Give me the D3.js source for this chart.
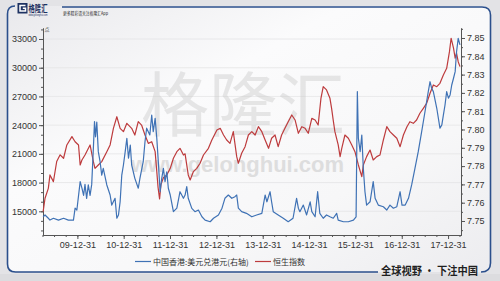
<!DOCTYPE html>
<html><head><meta charset="utf-8">
<script src="https://cdn.jsdelivr.net/npm/d3@7"></script>
<style>html,body{margin:0;padding:0;background:#e3e3e6;} svg{display:block;}</style>
</head><body><svg id="c" width="500" height="281"></svg>
<script>
// ---------- DATA ----------
const hsiName = "恒生指数";
const hkdName = "中国香港:美元兑港元(右轴)";
const leftTicks = [15000, 18000, 21000, 24000, 27000, 30000, 33000];
const rightTicks = [7.75, 7.76, 7.77, 7.78, 7.79, 7.80, 7.81, 7.82, 7.83, 7.84, 7.85];
const xTickDates = ["2009-12-31","2010-12-31","2011-12-31","2012-12-31","2013-12-31","2014-12-31","2015-12-31","2016-12-31","2017-12-31"];

const hsiDates = [
"2009-04-05","2009-04-20","2009-05-16","2009-05-29","2009-06-25","2009-07-21","2009-08-17","2009-09-13","2009-10-09","2009-11-18","2009-12-13",
"2010-01-09","2010-01-22","2010-02-05","2010-03-01","2010-04-10","2010-05-06","2010-05-19","2010-06-14","2010-07-11","2010-08-20","2010-09-15","2010-10-11","2010-11-07","2010-12-03","2010-12-29",
"2011-01-25","2011-03-04","2011-03-29","2011-04-25","2011-05-21","2011-06-17","2011-07-13","2011-08-09","2011-09-05","2011-09-18","2011-09-28","2011-10-10","2011-10-21","2011-11-09","2011-12-06",
"2012-01-02","2012-01-27","2012-02-23","2012-03-19","2012-04-15","2012-04-28","2012-05-23","2012-06-07","2012-07-02","2012-07-29","2012-08-24","2012-09-20","2012-10-29","2012-11-25",
"2013-01-04","2013-01-30","2013-02-25","2013-03-22","2013-04-17","2013-05-13","2013-06-09","2013-06-22","2013-07-18","2013-08-14","2013-09-09","2013-10-06","2013-11-01","2013-11-27","2013-12-24",
"2014-01-19","2014-02-15","2014-03-11","2014-04-07","2014-05-02","2014-05-29","2014-06-24","2014-07-20","2014-08-17","2014-09-12","2014-10-08","2014-11-04","2014-11-30","2014-12-25",
"2015-01-22","2015-02-17","2015-03-13","2015-04-04","2015-04-22","2015-05-18","2015-06-14","2015-06-27","2015-07-10","2015-07-23","2015-08-18","2015-09-02","2015-09-15","2015-10-10","2015-11-06","2015-12-03","2015-12-28",
"2016-01-24","2016-02-20","2016-03-03","2016-03-29","2016-04-25","2016-05-20","2016-06-17","2016-07-12","2016-08-08","2016-09-04","2016-09-29","2016-10-26","2016-11-22","2016-12-18",
"2017-01-13","2017-02-10","2017-03-05","2017-04-01","2017-04-27","2017-05-23","2017-06-19","2017-07-15","2017-08-11","2017-09-06","2017-10-03","2017-10-28","2017-11-24","2017-12-20",
"2018-01-11","2018-01-24","2018-02-12","2018-02-25","2018-03-08","2018-03-21","2018-04-04"];
const hsiValues = [
14960,16360,17400,18800,18100,20200,20900,20540,21930,22800,22270,
21930,19840,20360,20880,21930,20190,19490,19840,20190,21230,21930,23670,24880,23670,23320,
24190,23670,22970,24360,24010,22970,22100,22270,21230,19140,17500,16300,17800,18500,18790,
19490,20540,21230,21580,20880,21000,18800,18270,19140,19490,20020,20880,21580,22450,
23500,23670,22970,22450,22100,23320,20710,20020,21060,21750,22970,23320,22970,23840,23320,
22450,21580,22630,22970,21750,22970,23670,24360,25060,24540,23150,23840,23670,23150,
24710,24540,24010,26800,28020,27680,26800,25760,24500,23320,21930,20710,21580,22970,22630,21930,21230,
19840,18620,19840,20710,21400,20360,20710,20880,22450,23840,23320,22970,22630,21750,
22970,23840,24360,24190,24540,25240,25760,26280,27330,28200,28020,28370,29240,29940,
31680,33080,32040,31000,31510,30630,30110];

const hkdDates = [
"2009-04-05","2009-04-20","2009-05-16","2009-05-29","2009-06-25","2009-08-04","2009-09-13","2009-10-21","2009-11-30","2009-12-13","2009-12-27",
"2010-01-22","2010-02-05","2010-02-18","2010-03-01","2010-03-14","2010-03-27","2010-04-10","2010-04-23","2010-05-06","2010-05-15","2010-05-23","2010-06-02","2010-06-14","2010-06-28","2010-07-11","2010-07-23","2010-08-20","2010-09-15","2010-09-28","2010-10-24","2010-11-07","2010-11-20","2010-12-03","2010-12-16","2010-12-29",
"2011-01-12","2011-01-25","2011-02-07","2011-02-21","2011-03-04","2011-03-29","2011-04-25","2011-05-08","2011-06-03","2011-06-17","2011-06-30","2011-07-25","2011-08-09","2011-08-21","2011-09-05","2011-09-18","2011-09-30","2011-10-14","2011-10-27","2011-11-09","2011-11-22","2011-12-06","2011-12-18",
"2012-01-02","2012-01-27","2012-02-23","2012-03-19","2012-04-15","2012-04-28","2012-05-11","2012-05-23","2012-06-20","2012-07-15","2012-08-11","2012-09-08","2012-10-03","2012-11-12","2012-12-08",
"2013-01-16","2013-02-13","2013-03-08","2013-04-04","2013-05-01","2013-05-26","2013-06-09","2013-06-22","2013-07-18","2013-08-25","2013-10-06","2013-11-13","2013-12-24",
"2014-01-19","2014-02-02","2014-02-27","2014-03-11","2014-03-24","2014-05-02","2014-06-11","2014-07-20","2014-08-27","2014-09-24","2014-10-08","2014-10-20","2014-11-16","2014-12-12",
"2015-01-09","2015-01-22","2015-02-17","2015-03-09","2015-03-26","2015-04-22","2015-05-18","2015-06-14","2015-07-10","2015-08-06","2015-08-18","2015-09-28","2015-11-06","2015-12-16",
"2016-01-06","2016-01-16","2016-01-24","2016-02-07","2016-02-20","2016-03-03","2016-03-16","2016-03-29","2016-04-25","2016-05-20","2016-06-04","2016-06-29","2016-08-08","2016-09-04","2016-09-29","2016-10-26","2016-11-22","2016-12-18",
"2017-01-02","2017-01-27","2017-02-22","2017-03-19","2017-04-14","2017-05-10","2017-06-06","2017-07-02","2017-07-28","2017-08-11","2017-08-24","2017-09-06","2017-10-03","2017-10-28","2017-11-12","2017-11-24","2017-12-07","2017-12-20",
"2018-01-03","2018-01-16","2018-01-29","2018-02-12","2018-02-25","2018-03-08","2018-03-21","2018-04-04"];
const hkdValues = [
7.7523,7.7533,7.7515,7.7505,7.7515,7.7505,7.7515,7.7505,7.7505,7.7570,7.7560,
7.7715,7.7680,7.7640,7.7700,7.7624,7.7697,7.7640,7.7700,7.7897,7.8043,7.7960,7.8040,7.7879,7.7824,7.7751,7.7788,7.7697,7.7642,7.7587,7.7624,7.7515,7.7533,7.7605,7.7751,7.7806,
7.7879,7.7952,7.7843,7.7915,7.7806,7.7733,7.7679,7.7733,7.7824,7.7933,7.8007,7.7970,7.8079,7.7988,7.8061,7.7952,7.7824,7.7660,7.7733,7.7788,7.7715,7.7769,7.7679,
7.7642,7.7551,7.7570,7.7660,7.7624,7.7642,7.7688,7.7624,7.7569,7.7551,7.7560,7.7523,7.7505,7.7496,7.7515,
7.7533,7.7570,7.7624,7.7642,7.7624,7.7633,7.7642,7.7570,7.7551,7.7542,7.7523,7.7533,7.7542,
7.7642,7.7605,7.7660,7.7605,7.7551,7.7533,7.7515,7.7496,7.7515,7.7624,7.7570,7.7551,7.7587,7.7533,
7.7605,7.7551,7.7523,7.7660,7.7542,7.7515,7.7533,7.7523,7.7515,7.7542,7.7505,7.7496,7.7496,7.7505,
7.7523,7.8207,7.7952,7.7879,7.7970,7.7788,7.7660,7.7587,7.7605,7.7715,7.7624,7.7587,7.7578,7.7560,7.7587,7.7570,7.7578,7.7660,
7.7587,7.7587,7.7624,7.7697,7.7788,7.7879,7.7988,7.8097,7.8207,7.8261,7.8225,7.8207,7.8116,7.8007,7.8025,7.8079,7.8134,7.8207,
7.8171,7.8189,7.8243,7.8280,7.8316,7.8425,7.8498,7.8462];

// ---------- DRAW ----------
const parse = d3.timeParse("%Y-%m-%d");
const svg = d3.select("#c");
const numFont = "'Liberation Sans', Arial, sans-serif";
const cjkFont = "'Noto Sans CJK SC', sans-serif";

const defs = svg.append("defs");
const g1 = defs.append("linearGradient").attr("id","bg").attr("x1","0").attr("y1","0").attr("x2","1").attr("y2","1");
g1.append("stop").attr("offset","0%").attr("stop-color","#e9e9ec");
g1.append("stop").attr("offset","35%").attr("stop-color","#fbfbfc");
g1.append("stop").attr("offset","70%").attr("stop-color","#f7f7f8");
g1.append("stop").attr("offset","100%").attr("stop-color","#ececef");

svg.append("rect").attr("width",500).attr("height",281).attr("fill","#e3e3e6");
svg.append("rect").attr("x",7.5).attr("y",6).attr("width",483).attr("height",266).attr("rx",8).attr("fill","url(#bg)");
svg.append("rect").attr("x",0).attr("y",274).attr("width",500).attr("height",7).attr("fill","#dcdcdf");

// scales
const x = d3.scaleTime().domain([parse("2009-04-04"), parse("2018-04-12")]).range([43, 461]);
const yL = d3.scaleLinear().domain([12524, 34149]).range([235, 28]);
const yR = d3.scaleLinear().domain([7.74235, 7.85546]).range([235, 28]);

// gridlines
svg.append("g").selectAll("line").data(leftTicks).join("line")
  .attr("x1",43).attr("x2",461).attr("y1",d=>yL(d)).attr("y2",d=>yL(d))
  .attr("stroke","#e4e4e6").attr("stroke-width",0.8);

// watermark
svg.append("text").attr("x",141).attr("y",131).attr("font-family",cjkFont).attr("font-size",70)
  .attr("fill","#c6c6c6").attr("opacity",0.4).attr("textLength",204).attr("lengthAdjust","spacingAndGlyphs").text("格隆汇");
svg.append("text").attr("x",131).attr("y",172).attr("font-family",numFont).attr("font-size",22).attr("font-weight","bold")
  .attr("fill","#c8c8c8").attr("opacity",0.55).text("www.gelonghui.com");

// axes
function styleAxis(g){
  g.selectAll("path").attr("stroke","#555").attr("stroke-width",1);
  g.selectAll("line").attr("stroke","#555");
  g.selectAll("text").attr("fill","#333").attr("font-family",numFont).attr("font-size",9);
}
const leftMinor = d3.range(13000, 34001, 1000);
svg.append("g").attr("transform","translate(43,0)")
  .call(d3.axisLeft(yL).tickValues(leftMinor).tickSize(2).tickSizeOuter(0).tickFormat(""))
  .call(styleAxis);
svg.append("g").attr("transform","translate(43,0)")
  .call(d3.axisLeft(yL).tickValues(leftTicks).tickSize(4).tickSizeOuter(0).tickPadding(2).tickFormat(d3.format("d")))
  .call(styleAxis);
svg.append("text").attr("x",44.5).attr("y",31).attr("font-family",cjkFont).attr("font-size",5).attr("fill","#444").text("点");

const rightMinor = d3.range(7.745, 7.856, 0.005);
svg.append("g").attr("transform","translate(461,0)")
  .call(d3.axisRight(yR).tickValues(rightMinor).tickSize(2).tickSizeOuter(0).tickFormat(""))
  .call(styleAxis);
svg.append("g").attr("transform","translate(461,0)")
  .call(d3.axisRight(yR).tickValues(rightTicks).tickSize(4).tickSizeOuter(0).tickPadding(2).tickFormat(d3.format(".2f")))
  .call(styleAxis);

const quarterTicks = d3.timeMonth.every(3).range(parse("2009-04-01"), parse("2018-04-13")).map(d => d3.timeDay.offset(d, -1));
svg.append("g").attr("transform","translate(0,235)")
  .call(d3.axisBottom(x).tickValues(quarterTicks).tickSize(2).tickSizeOuter(0).tickFormat(""))
  .call(styleAxis);
svg.append("g").attr("transform","translate(0,235)")
  .call(d3.axisBottom(x).tickValues(xTickDates.map(parse)).tickSize(4).tickSizeOuter(0).tickPadding(3).tickFormat(d3.timeFormat("%y-%m-%d")))
  .call(styleAxis);

// lines
const hsi = hsiDates.map((d,i)=>({d:parse(d), v:hsiValues[i]}));
const hkd = hkdDates.map((d,i)=>({d:parse(d), v:hkdValues[i]}));
const blue = "#3f72b5", red = "#bd3b3d";
svg.append("path").datum(hsi).attr("fill","none").attr("stroke",red).attr("stroke-width",1.2).attr("stroke-linejoin","round")
  .attr("d", d3.line().x(p=>x(p.d)).y(p=>yL(p.v)));
svg.append("path").datum(hkd).attr("fill","none").attr("stroke",blue).attr("stroke-width",1.2).attr("stroke-linejoin","round")
  .attr("d", d3.line().x(p=>x(p.d)).y(p=>yR(p.v)));

// legend
const lg = svg.append("g");
lg.append("line").attr("x1",135).attr("x2",151).attr("y1",261.5).attr("y2",261.5).attr("stroke",blue).attr("stroke-width",1.2);
lg.append("text").attr("x",153).attr("y",264.5).attr("font-family",cjkFont).attr("font-size",8).attr("fill","#333").text(hkdName);
lg.append("line").attr("x1",255).attr("x2",271).attr("y1",261.5).attr("y2",261.5).attr("stroke",red).attr("stroke-width",1.2);
lg.append("text").attr("x",273).attr("y",264.5).attr("font-family",cjkFont).attr("font-size",8).attr("fill","#333").text(hsiName);

// frame
const frameCol = "#2b4f8c";
svg.append("path").attr("d","M15,6 Q7.5,6 7.5,14 V264 Q7.5,272 15.5,272 H378")
  .attr("fill","none").attr("stroke",frameCol).attr("stroke-width",1.6);
svg.append("path").attr("d","M481,272 Q490.5,272 490.5,263 V15 Q490.5,7 482,7 H62")
  .attr("fill","none").attr("stroke",frameCol).attr("stroke-width",1.6);

// header logo
svg.append("rect").attr("x",17.5).attr("y",3).attr("width",10).attr("height",10.5).attr("fill","#1e3262");
svg.append("path").attr("d","M25.5,5.5 H20 V11 H25.5 V8.3 H22.8").attr("fill","none").attr("stroke","#fff").attr("stroke-width",1.5);
svg.append("text").attr("x",28.5).attr("y",12).attr("font-family",cjkFont).attr("font-size",9.5).attr("font-weight","bold").attr("fill","#1e3262")
  .attr("textLength",19).attr("lengthAdjust","spacingAndGlyphs").text("格隆汇");
svg.append("text").attr("x",28.5).attr("y",15.6).attr("font-family",numFont).attr("font-size",2.6).attr("fill","#1e3262")
  .attr("textLength",19).attr("lengthAdjust","spacingAndGlyphs").text("www.gelonghui.com");
svg.append("text").attr("x",63).attr("y",14.5).attr("font-family",cjkFont).attr("font-size",4.3).attr("fill","#2a2a2a")
  .attr("textLength",45).attr("lengthAdjust","spacingAndGlyphs").text("更多精彩请关注格隆汇App");

// bottom slogan
svg.append("text").attr("x",381).attr("y",274.5).attr("font-family",cjkFont).attr("font-size",11).attr("font-weight","bold")
  .attr("fill","#1f1f1f").attr("textLength",97).attr("lengthAdjust","spacingAndGlyphs").text("全球视野 • 下注中国");
</script></body></html>
